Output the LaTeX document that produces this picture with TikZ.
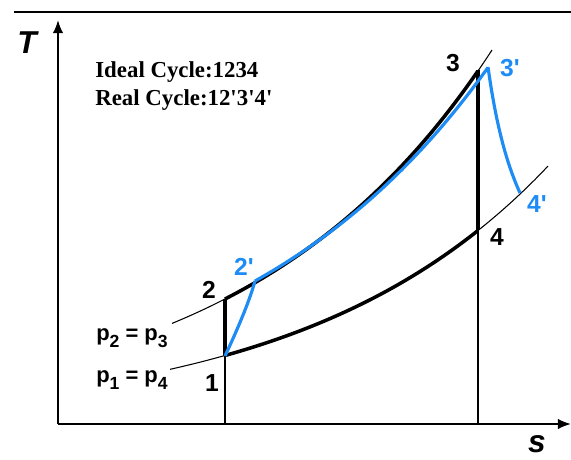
\documentclass[tikz,border=0pt]{standalone}
\usepackage{fontspec}
\setmainfont{Liberation Serif}
\setsansfont{Liberation Sans}
\usetikzlibrary{positioning,arrows.meta,calc}

\definecolor{realblue}{RGB}{30,140,245}
\newcommand{\psub}[1]{\raisebox{-0.55ex}{\fontsize{10}{10}\selectfont #1}}
\newcommand{\pr}{\textquotesingle}

\begin{document}
\begin{tikzpicture}[x=0.2mm,y=0.2mm,
  axis/.style={-{Latex[length=7.5pt,width=6pt]},line width=1.1pt},
  thin/.style={line width=0.6pt},
  ideal/.style={line width=2pt},
  real/.style={line width=1.8pt,realblue,line join=round},
  pt/.style={font=\sffamily\bfseries\fontsize{14}{14}\selectfont,inner sep=1pt},
  ptreal/.style={pt,text=realblue},
  plab/.style={font=\sffamily\bfseries\fontsize{12.5}{12.5}\selectfont,inner sep=1pt},
]
\useasboundingbox (-58,-35) rectangle (513,424);

% frame line on top
\draw[line width=1.1pt] (-44,412) -- (513,412);

% axes
\coordinate (O) at (0,0);
\draw[axis] (O) -- (0,404);
\draw[axis] (O) -- (513,0);
\node[font=\sffamily\bfseries\itshape\fontsize{18}{18}\selectfont] (T) at (-31,381) {T};
\node[font=\sffamily\bfseries\itshape\fontsize{18}{18}\selectfont] (s) at (479,-20) {s};

% state points
\coordinate (p1) at (167,68);
\coordinate (p2) at (167,125);
\coordinate (p2r) at (197,143);
\coordinate (p3) at (420,354);
\coordinate (p3r) at (430,357);
\coordinate (p4) at (420,194);
\coordinate (p4r) at (462,231);

% isobars
\draw[thin] plot[domain=114:434,samples=60] (\x,{125*exp(0.0041*(\x-167))});
\draw[thin] plot[domain=112:490,samples=60] (\x,{68.5*exp(0.0041*(\x-167))});

% ideal cycle 1234
\draw[thin] (O -| p1) -- (p1);
\draw[thin] (O -| p4) -- (p4);
\draw[ideal] (p1) -- (p2);
\draw[ideal] plot[domain=167:420,samples=60] (\x,{125*exp(0.0041*(\x-167))});
\draw[ideal] (p3) -- (p4);
\draw[ideal] plot[domain=167:420,samples=60] (\x,{68.5*exp(0.0041*(\x-167))});

% real cycle 12'3'4'
\draw[real] (p1) .. controls (182,100) and (192,125) .. (p2r);
\draw[real] plot[domain=197:430,samples=60] (\x,{143*exp(0.003928*(\x-197))});
\draw[real] (p3r) .. controls (438,300) and (448,262) .. (p4r);

% point labels
\node[pt] (l1) at (154,41) {1};
\node[pt] (l2) at (151,134) {2};
\node[pt] (l3) at (395,361) {3};
\node[pt] (l4) at (439,187) {4};
\node[ptreal] (l2r) at (186,157) {2\pr};
\node[ptreal] (l3r) at (452,356) {3\pr};
\node[ptreal] (l4r) at (479,220) {4\pr};

% pressure labels
\node[plab] (pa) at (74,86) {p\psub{2} = p\psub{3}};
\node[plab] (pb) at (74,44) {p\psub{1} = p\psub{4}};

% legend
\node[font=\bfseries\fontsize{13}{16}\selectfont,align=left,anchor=west,inner sep=0pt] (legend) at (37,338) {Ideal Cycle:1234\\Real Cycle:12\pr3\pr4\pr};
\end{tikzpicture}
\end{document}
